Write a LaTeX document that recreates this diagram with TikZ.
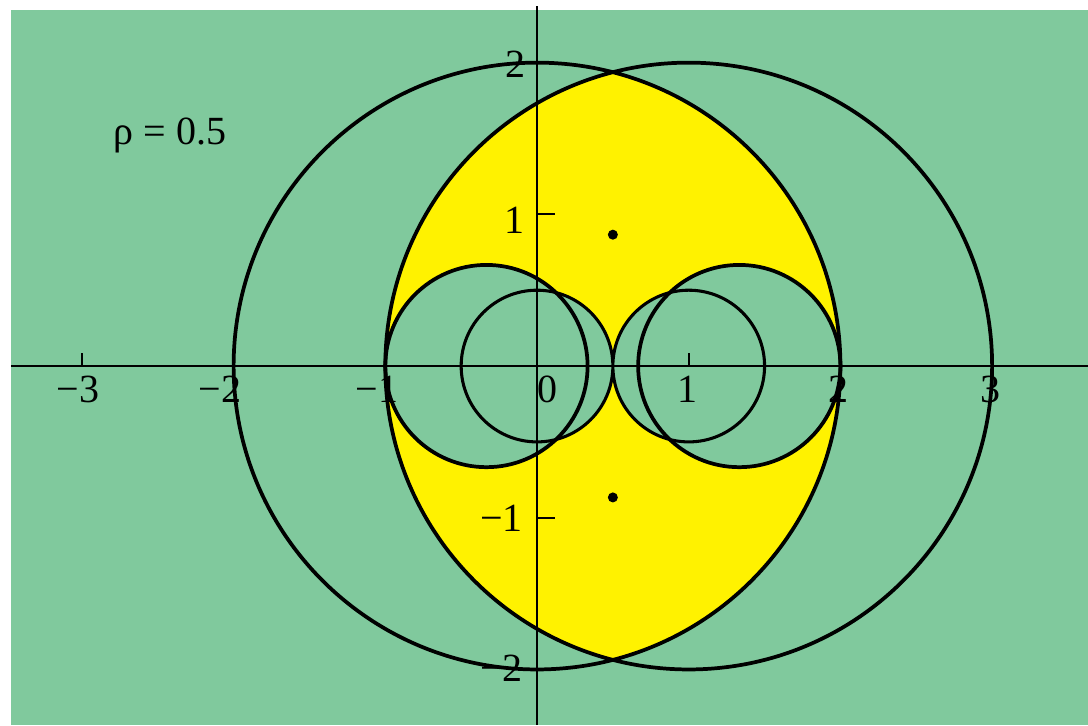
\documentclass[tikz,border=0pt]{standalone}
\usepackage{fontspec}
\setmainfont{Liberation Serif}
\usepackage{xcolor}
\definecolor{bggreen}{RGB}{128,201,157}
\definecolor{lensyellow}{RGB}{255,242,0}

\begin{document}
\begin{tikzpicture}[x=2cm,y=2cm,font=\fontsize{15}{18}\selectfont,
    bigcirc/.style={line width=1.4pt},
    smallcirc/.style={line width=1.15pt},
    axisline/.style={line width=0.75pt}]
\useasboundingbox (-3.540,-2.367) rectangle (3.632,2.413);
\fill[bggreen](-3.467,-2.367) rectangle (3.632,2.347);
% lens
\begin{scope}
\clip (0,0) circle (2);
\fill[lensyellow] (1,0) circle (2);
\end{scope}
\fill[bggreen] (-1/3,0) circle (2/3) (4/3,0) circle (2/3) (0,0) circle (.5) (1,0) circle (.5);
% axes
\draw[axisline](-3.467,0)--(3.632,0);
\draw[axisline](0,-2.367)--(0,2.373);
\foreach \x in {-3,-2,-1,1,2,3} \draw[axisline](\x,0)--(\x,.085);
\foreach \y in {-2,-1,1,2} \draw[axisline](0,\y)--(.12,\y);
% circles
\draw[bigcirc] (0,0) circle (2) (1,0) circle (2);
\draw[bigcirc] (-1/3,0) circle (2/3) (4/3,0) circle (2/3);
\draw[smallcirc] (0,0) circle (.5) (1,0) circle (.5);
\fill (.5,.866) circle (.033) (.5,-.866) circle (.033);
% labels
\node (xm3) at (-3.026,-.155) {−3};
\node (xm2) at (-2.09,-.155) {−2};
\node (xm1) at (-1.055,-.155) {−1};
\node (x0) at (.066,-.155) {0};
\node (x1) at (.995,-.155) {1};
\node (x2) at (1.984,-.155) {2};
\node (x3) at (2.986,-.155) {3};
\node[anchor=east,inner sep=0pt] (y2) at (-.073,1.987) {2};
\node[anchor=east,inner sep=0pt] (y1) at (-.079,.962) {1};
\node[anchor=east,inner sep=0pt] (ym1) at (-.09,-1.002) {−1};
\node[anchor=east,inner sep=0pt] (ym2) at (-.09,-1.991) {−2};
\node[anchor=base] (rho) at (-2.419,1.463) {ρ = 0.5};
\end{tikzpicture}
\end{document}
